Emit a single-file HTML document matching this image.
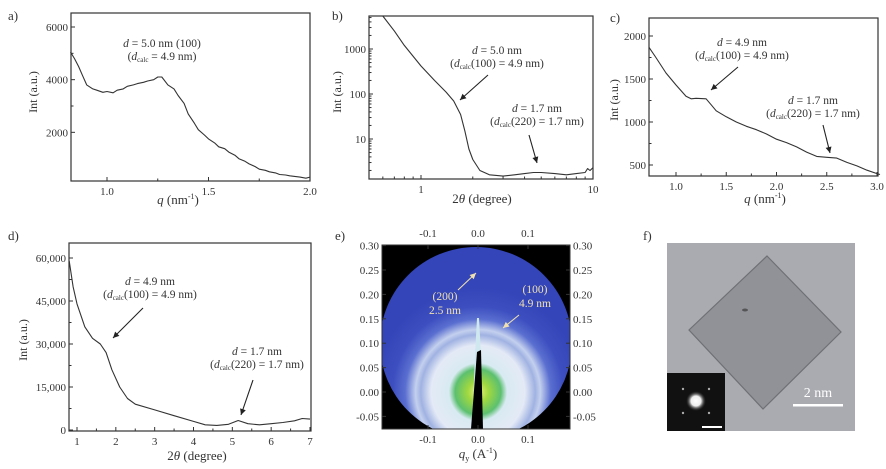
<!DOCTYPE html>
<html><head><meta charset="utf-8">
<style>
html,body{margin:0;padding:0;background:#fff;}
svg{display:block;font-family:"Liberation Serif",serif;}
text{fill:#333;}
</style></head>
<body>
<svg id="fig" width="886" height="469" viewBox="0 0 886 469" xmlns="http://www.w3.org/2000/svg">
<defs>
<radialGradient id="saxs" cx="478" cy="392" r="104" gradientUnits="userSpaceOnUse">
<stop offset="0" stop-color="#f0f27a"/>
<stop offset="0.1" stop-color="#a0d840"/>
<stop offset="0.22" stop-color="#5cc070"/>
<stop offset="0.28" stop-color="#d8eaf2"/>
<stop offset="0.45" stop-color="#e4eaf6"/>
<stop offset="0.55" stop-color="#a0b2e2"/>
<stop offset="0.6" stop-color="#c4d0ee"/>
<stop offset="0.7" stop-color="#5a6fd0"/>
<stop offset="0.82" stop-color="#3d4fc0"/>
<stop offset="1" stop-color="#3345b8"/>
</radialGradient>
<radialGradient id="spot" cx="696" cy="401" r="10" gradientUnits="userSpaceOnUse">
<stop offset="0" stop-color="#fff"/><stop offset="0.5" stop-color="#eee"/><stop offset="1" stop-color="#333" stop-opacity="0"/>
</radialGradient>
</defs>
</svg>
<script>
// ---- data arrays ----
const aQ = [0.82,0.84,0.86,0.88,0.9,0.93,0.95,0.98,1.0,1.03,1.05,1.08,1.1,1.13,1.15,1.18,1.2,1.23,1.25,1.27,1.3,1.33,1.35,1.38,1.4,1.43,1.45,1.48,1.5,1.53,1.55,1.58,1.6,1.63,1.65,1.68,1.7,1.73,1.75,1.78,1.8,1.83,1.85,1.88,1.9,1.93,1.95,1.98,2.0];
const aInt = [5050,4800,4500,4150,3800,3650,3600,3520,3550,3500,3600,3650,3750,3800,3850,3900,3950,4000,4100,4100,3800,3650,3400,3100,2700,2350,2100,1900,1750,1600,1450,1380,1250,1130,1000,900,800,700,600,560,500,460,400,380,350,320,300,260,300];
const aYTicks = [2000,4000,6000];
const aXTicks = [1.0,1.5,2.0];

const bTheta = [0.6,0.7,0.8,1.0,1.2,1.4,1.55,1.7,1.8,1.9,2.0,2.2,2.5,3,3.5,4,4.5,5,6,7,8,9,9.3,9.6,10];
const bInt = [5400,2500,1200,420,200,110,70,35,15,6,3.5,2,1.6,1.5,1.6,1.7,1.8,1.8,1.7,1.6,1.7,1.8,2.2,2.0,2.3];
const bYTicks = [10,100,1000];
const bXTicks = [1,10];

const cQ = [0.73,0.8,0.9,1.0,1.1,1.15,1.2,1.3,1.35,1.4,1.5,1.6,1.7,1.8,1.9,2.0,2.1,2.2,2.3,2.4,2.5,2.6,2.7,2.8,2.9,3.0,3.03];
const cInt = [1870,1750,1570,1430,1300,1270,1275,1270,1200,1130,1060,1000,950,910,860,800,760,710,650,600,590,580,530,490,440,400,390];
const cYTicks = [500,1000,1500,2000];
const cXTicks = [1.0,1.5,2.0,2.5,3.0];

const dTheta = [0.8,0.9,1,1.2,1.4,1.6,1.75,1.9,2.1,2.3,2.5,3,3.5,4,4.3,4.6,4.9,5.15,5.4,5.7,6,6.3,6.6,6.8,7];
const dInt = [59000,50000,44000,36000,32000,30000,27000,21000,15000,11000,9000,7000,5000,3000,1800,1600,2000,3300,2200,1800,2200,2600,3200,4000,3800];
const dYTicks = [0,15000,30000,45000,60000];
const dYLabels = ["0","15,000","30,000","45,000","60,000"];
const dXTicks = [1,2,3,4,5,6,7];

const eXTicks = [-0.1,0.0,0.1];
const eYTicks = [-0.05,0.00,0.05,0.10,0.15,0.20,0.25,0.30];

const NS = "http://www.w3.org/2000/svg";
const svg = document.getElementById('fig');
function el(tag, attrs, parent){
  const e = document.createElementNS(NS, tag);
  for (const k in attrs) e.setAttribute(k, attrs[k]);
  (parent||svg).appendChild(e);
  return e;
}
function txt(x,y,s,size,anchor,parent){
  const t = el('text',{x:x,y:y,'font-size':size,'text-anchor':anchor||'middle'},parent);
  t.innerHTML = s;
  return t;
}
function lin(d0,d1,r0,r1){return v=>r0+(v-d0)*(r1-r0)/(d1-d0);}
function logs(d0,d1,r0,r1){return v=>r0+(Math.log10(v)-Math.log10(d0))*(r1-r0)/(Math.log10(d1)-Math.log10(d0));}

function panel(name, box, xs, ys, X, Y, xt, yt, xl, yl, opts){
  const g = el('g',{});
  
  
  const fr = el('rect',{x:box.l,y:box.t,width:box.r-box.l,height:box.b-box.t,fill:'none',stroke:'#333','stroke-width':1.2},g);
  
  
  xt.forEach((v,i)=>{
    const x = xs(v);
    el('line',{x1:x,y1:box.b,x2:x,y2:box.b-4,stroke:'#333'},g);
    if(opts.minor && i<xt.length-1){const xm=(x+xs(xt[i+1]))/2; el('line',{x1:xm,y1:box.b,x2:xm,y2:box.b-2.5,stroke:'#333'},g);}
    const t = txt(x, box.b+14, xl?xl[i]:v.toFixed(opts.xdec), 11, 'middle', g);
    
    
  });
  yt.forEach((v,i)=>{
    const y = ys(v);
    el('line',{x1:box.l,y1:y,x2:box.l+4,y2:y,stroke:'#333'},g);
    if(opts.minor && i<yt.length-1){const ym=(y+ys(yt[i+1]))/2; el('line',{x1:box.l,y1:ym,x2:box.l+2.5,y2:ym,stroke:'#333'},g);}
    const t = txt(box.l-3, y+4, yl?yl[i]:String(v), 11, 'end', g);
    
    
  });
  const pts = X.map((v,i)=>xs(v).toFixed(1)+','+Math.max(box.t,Math.min(box.b,ys(Y[i]))).toFixed(1)).join(' ');
  const line = el('polyline',{points:pts,fill:'none',stroke:'#333','stroke-width':1.1,'stroke-linejoin':'round'},g);
  
  
  return g;
}
function ytitle(x,y,s){
  const t = el('text',{x:0,y:0,'font-size':12,'text-anchor':'middle',transform:`translate(${x},${y}) rotate(-90)`});
  t.innerHTML = s;
  
  
}
function xtitle(x,y,s){
  const t = txt(x,y,s,13);
  
  
}
function plabel(x,y,s){
  const t = txt(x,y,s,13,'start');
  
  
}
function arrow(x1,y1,x2,y2,color){
  const c = color||'#222';
  const a = el('line',{x1:x1,y1:y1,x2:x2,y2:y2,stroke:c,'stroke-width':1.1});
  
  
  const ang = Math.atan2(y2-y1,x2-x1), L=6, W=3;
  const bx = x2-L*Math.cos(ang), by = y2-L*Math.sin(ang);
  el('polygon',{points:`${x2},${y2} ${bx-W*Math.sin(ang)},${by+W*Math.cos(ang)} ${bx+W*Math.sin(ang)},${by-W*Math.cos(ang)}`,fill:c});
}
function ann(x,y,l1,l2){
  const t1 = txt(x,y,l1,11.5);
  
  
  if(l2){ const t2 = txt(x,y+13,l2,11.5);
  
   }
}
const dcalc = '(<tspan font-style="italic">d</tspan><tspan font-size="7" dy="2">calc</tspan><tspan dy="-2">';

// Panel a
{
  const box={l:71,r:310,t:13,b:181};
  const xs=lin(1.0,2.0,107,310), ys=lin(0,6000,185,27);
  panel('panel-a-chart',box,xs,ys,aQ,aInt,aXTicks,aYTicks,null,null,{xdec:1,minor:true});
  plabel(8,20,'a)'); ytitle(37,92,'Int (a.u.)');
  xtitle(178,204,'<tspan font-style="italic">q</tspan> (nm<tspan font-size="8" dy="-5">-1</tspan><tspan dy="5">)</tspan>');
  ann(162,47,'<tspan font-style="italic">d</tspan> = 5.0 nm (100)', dcalc+' = 4.9 nm)</tspan>');
}
// Panel b
{
  const box={l:369,r:593,t:16,b:179};
  const xs=logs(1,10,421,593), ys=logs(10,1000,139,49);
  panel('panel-b-chart',box,xs,ys,bTheta,bInt,bXTicks,bYTicks,null,null,{xdec:0});
  const g=svg.lastChild;
  [0.6,0.7,0.8,0.9,2,3,4,5,6,7,8,9].forEach(v=>{const x=xs(v);el('line',{x1:x,y1:box.b,x2:x,y2:box.b-2.5,stroke:'#333'},g);});
  [2,3,4,5,6,7,8,9,20,30,40,50,60,70,80,90,200,300,400,500,600,700,800,900,2000,3000,4000,5000].forEach(v=>{const y=ys(v);el('line',{x1:box.l,y1:y,x2:box.l+2.5,y2:y,stroke:'#333'},g);});
  plabel(332,20,'b)'); ytitle(341,92,'Int (a.u.)');
  xtitle(482,203,'2<tspan font-style="italic">θ</tspan> (degree)');
  ann(497,54,'<tspan font-style="italic">d</tspan> = 5.0 nm', dcalc+'(100) = 4.9 nm)</tspan>');
  arrow(488,75,460,100);
  ann(537,112,'<tspan font-style="italic">d</tspan> = 1.7 nm', dcalc+'(220) = 1.7 nm)</tspan>');
  arrow(529,135,537,163);
}
// Panel c
{
  const box={l:649,r:878,t:18,b:176};
  const xs=lin(1.0,3.0,676,877), ys=lin(500,2000,165,36);
  panel('panel-c-chart',box,xs,ys,cQ,cInt,cXTicks,cYTicks,null,null,{xdec:1,minor:true});
  plabel(610,22,'c)'); ytitle(618,100,'Int (a.u.)');
  xtitle(765,203,'<tspan font-style="italic">q</tspan> (nm<tspan font-size="8" dy="-5">-1</tspan><tspan dy="5">)</tspan>');
  ann(742,46,'<tspan font-style="italic">d</tspan> = 4.9 nm', dcalc+'(100) = 4.9 nm)</tspan>');
  arrow(738,67,711,90);
  ann(813,104,'<tspan font-style="italic">d</tspan> = 1.7 nm', dcalc+'(220) = 1.7 nm)</tspan>');
  arrow(823,125,830,153);
}
// Panel d
{
  const box={l:69,r:311,t:243,b:431};
  const xs=lin(1,7,77,310), ys=lin(0,60000,430,258);
  panel('panel-d-chart',box,xs,ys,dTheta,dInt,dXTicks,dYTicks,null,dYLabels,{xdec:0,minor:true});
  plabel(8,240,'d)'); ytitle(27,340,'Int (a.u.)');
  xtitle(197,460,'2<tspan font-style="italic">θ</tspan> (degree)');
  ann(150,285,'<tspan font-style="italic">d</tspan> = 4.9 nm', dcalc+'(100) = 4.9 nm)</tspan>');
  arrow(143,308,113,338);
  ann(257,355,'<tspan font-style="italic">d</tspan> = 1.7 nm', dcalc+'(220) = 1.7 nm)</tspan>');
  arrow(253,380,241,415);
}
// Panel e
{
  const box={l:382,r:570,t:245,b:429};
  const xs=lin(0,0.1,478,528), ys=lin(0,0.05,392,367.6);
  const g = el('g',{});
  
  
  el('rect',{x:box.l,y:box.t,width:box.r-box.l,height:box.b-box.t,fill:'#000'},g);
  const cp = el('clipPath',{id:'ec'},g);
  el('rect',{x:box.l,y:box.t,width:box.r-box.l,height:box.b-box.t},cp);
  const disc = el('circle',{cx:476,cy:343,r:96,fill:'url(#saxs)','clip-path':'url(#ec)'},g);
  
  
  el('polygon',{points:'477,318 479,318 481,355 480,429 472,429 475,355',fill:'#cfe8f0','clip-path':'url(#ec)'},g);
  const bs = el('polygon',{points:'477,352 481,350 483,429 471,429',fill:'#000'},g);
  
  
  el('rect',{x:box.l,y:box.t,width:box.r-box.l,height:box.b-box.t,fill:'none',stroke:'#333'},g);
  eXTicks.forEach(v=>{
    const x=xs(v);
    el('line',{x1:x,y1:box.b,x2:x,y2:box.b-4,stroke:'#333'},g);
    el('line',{x1:x,y1:box.t,x2:x,y2:box.t+4,stroke:'#333'},g);
    const t1=txt(x,box.b+14,v.toFixed(1),11,'middle',g);
    
    
    const t2=txt(x,box.t-8,v.toFixed(1),11,'middle',g);
    
    
  });
  eYTicks.forEach(v=>{
    const y=ys(v);
    el('line',{x1:box.l,y1:y,x2:box.l+4,y2:y,stroke:'#333'},g);
    el('line',{x1:box.r,y1:y,x2:box.r-4,y2:y,stroke:'#333'},g);
    const t1=txt(box.l-3,y+4,v.toFixed(2),11,'end',g);
    
    
    const t2=txt(box.r+3,y+4,v.toFixed(2),11,'start',g);
    
    
  });
  plabel(335,240,'e)');
  xtitle(478,458,'<tspan font-style="italic">q</tspan><tspan font-size="8" dy="3">y</tspan><tspan dy="-3"> (A</tspan><tspan font-size="8" dy="-5">-1</tspan><tspan dy="5">)</tspan>');
  const lab = [['(200)',445,300],['2.5 nm',445,314],['(100)',535,293],['4.9 nm',535,307]];
  lab.forEach(l=>{const t=txt(l[1],l[2],l[0],11.5);t.style.fill='#f0e0b0';
    
    });
  arrow(458,290,476,273,'#f0e0b0');
  arrow(519,315,503,328,'#f0e0b0');
}
// Panel f
{
  const g = el('g',{});
  
  
  el('rect',{x:667,y:243,width:188,height:188,fill:'#a9abb0'},g);
  const dm = el('polygon',{points:'767,256 841,332 763,409 689,330',fill:'#909298',stroke:'#6e7076','stroke-width':1.2},g);
  
  
  el('ellipse',{cx:745,cy:310,rx:3,ry:1.5,fill:'#555'},g);
  const ins = el('rect',{x:667,y:373,width:58,height:58,fill:'#111'},g);
  
  
  el('circle',{cx:696,cy:401,r:10,fill:'url(#spot)'},g);
  [[683,389],[709,389],[683,413],[709,413]].forEach(p=>el('circle',{cx:p[0],cy:p[1],r:1.2,fill:'#aaa'},g));
  el('rect',{x:702,y:426,width:20,height:2,fill:'#fff'},g);
  const sb = el('rect',{x:793,y:404,width:50,height:2.5,fill:'#fff'},g);
  
  
  const st = txt(818,397,'2 nm',14,'middle',g);
  st.style.fill='#fff';
  
  
  plabel(643,240,'f)');
}
</script>
</body></html>
